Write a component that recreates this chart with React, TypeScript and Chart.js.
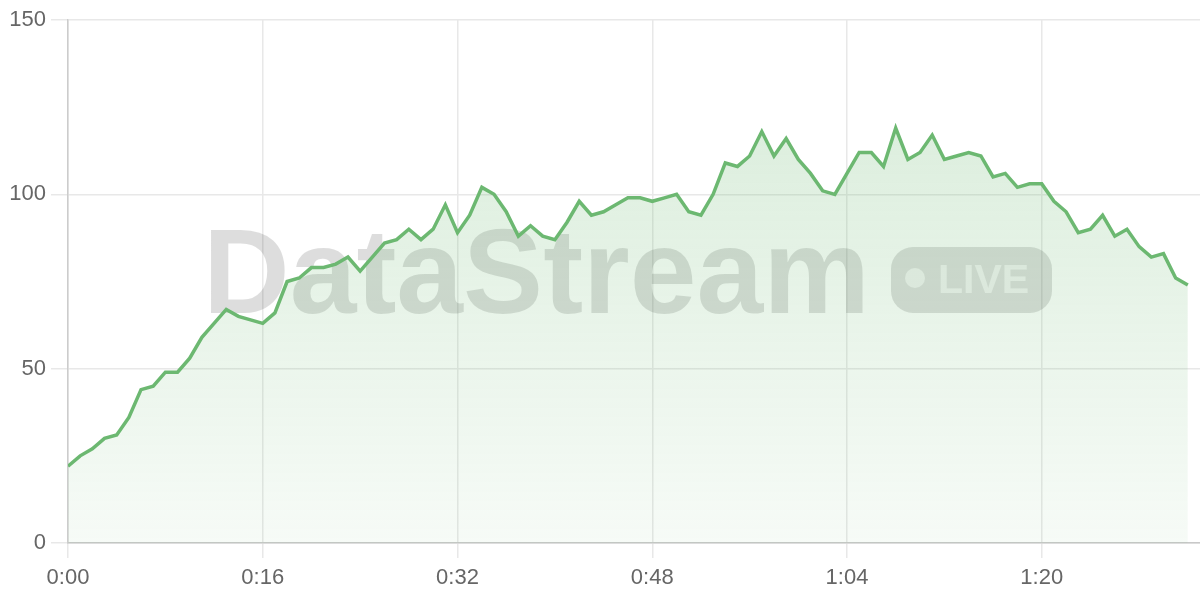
import React, { useEffect, useRef } from "react";
import { Chart, registerables } from "chart.js";

Chart.register(...registerables);

// one sample per second (0:00 .. 1:32)
const values: number[] = [
  22, 25, 27, 30, 31, 36, 44, 45, 49, 49,
  53, 59, 63, 67, 65, 64, 63, 66, 75, 76,
  79, 79, 80, 82, 78, 82, 86, 87, 90, 87,
  90, 97, 89, 94, 102, 100, 95, 88, 91, 88,
  87, 92, 98, 94, 95, 97, 99, 99, 98, 99,
  100, 95, 94, 100, 109, 108, 111, 118, 111, 116,
  110, 106, 101, 100, 106, 112, 112, 108, 119, 110,
  112, 117, 110, 111, 112, 111, 105, 106, 102, 103,
  103, 98, 95, 89, 90, 94, 88, 90, 85, 82,
  83, 76, 74,
];
const xTickSeconds: number[] = [0, 16, 32, 48, 64, 80];
const yTicks: number[] = [0, 50, 100, 150];
const watermarkText = "DataStream";
const badgeText = "LIVE";

const LINE = "#6cb871";
const FONT = "'Liberation Sans', Arial, sans-serif";

const fmt = (s: number) => `${Math.floor(s / 60)}:${String(s % 60).padStart(2, "0")}`;

const watermarkPlugin = {
  id: "watermark",
  beforeDatasetsDraw(chart: any) {
    const ctx = chart.ctx as CanvasRenderingContext2D;
    ctx.save();
    ctx.font = `bold 120px ${FONT}`;
    ctx.textBaseline = "alphabetic";
    ctx.textAlign = "left";
    ctx.fillStyle = "rgba(0,0,0,0.135)";
    ctx.fillText(watermarkText, 203, 313);
    // badge
    const bx = 891, by = 247, bw = 161, bh = 66, r = 22;
    ctx.beginPath();
    ctx.moveTo(bx + r, by);
    ctx.lineTo(bx + bw - r, by);
    ctx.arcTo(bx + bw, by, bx + bw, by + r, r);
    ctx.lineTo(bx + bw, by + bh - r);
    ctx.arcTo(bx + bw, by + bh, bx + bw - r, by + bh, r);
    ctx.lineTo(bx + r, by + bh);
    ctx.arcTo(bx, by + bh, bx, by + bh - r, r);
    ctx.lineTo(bx, by + r);
    ctx.arcTo(bx, by, bx + r, by, r);
    ctx.closePath();
    ctx.fillStyle = "rgba(0,0,0,0.135)";
    ctx.fill();
    ctx.fillStyle = "rgba(255,255,255,0.6)";
    ctx.beginPath();
    ctx.arc(915, 278, 10, 0, Math.PI * 2);
    ctx.fill();
    ctx.font = `bold 41px ${FONT}`;
    ctx.fillText(badgeText, 938, 293);
    ctx.restore();
  },
};

export default function App() {
  const ref = useRef<HTMLCanvasElement | null>(null);

  useEffect(() => {
    if (!ref.current) return;
    const chart = new Chart(ref.current, {
      type: "line",
      data: {
        datasets: [
          {
            data: values.map((v, i) => ({ x: i, y: v })),
            borderColor: LINE,
            borderWidth: 3.5,
            pointRadius: 0,
            tension: 0,
            fill: "origin",
            backgroundColor: (c: any) => {
              const area = c.chart.chartArea;
              if (!area) return "rgba(108,184,113,0.15)";
              const g = c.chart.ctx.createLinearGradient(0, area.top, 0, area.bottom);
              g.addColorStop(0, "rgba(108,184,113,0.28)");
              g.addColorStop(1, "rgba(108,184,113,0.06)");
              return g;
            },
          },
        ],
      },
      options: {
        responsive: false,
        animation: false,
        layout: { padding: { top: 20, left: 0, right: 0, bottom: 0 } },
        plugins: { legend: { display: false }, tooltip: { enabled: false } },
        scales: {
          x: {
            type: "linear",
            min: 0,
            max: 93,
            afterBuildTicks: (s: any) => {
              s.ticks = xTickSeconds.map((v) => ({ value: v }));
            },
            afterFit: (s: any) => {
              s.height = 57;
            },
            grid: { color: "#e8e8e8", lineWidth: 1.5, tickLength: 15 },
            border: { color: "#c8c8c8", width: 1.5 },
            ticks: {
              color: "#666",
              font: { size: 22, family: FONT },
              padding: 7,
              maxRotation: 0,
              callback: (v: any) => fmt(Number(v)),
            },
          },
          y: {
            min: 0,
            max: 150,
            afterBuildTicks: (s: any) => {
              s.ticks = yTicks.map((v) => ({ value: v }));
            },
            afterFit: (s: any) => {
              s.width = 68;
            },
            grid: { color: "#e8e8e8", lineWidth: 1.5, tickLength: 17 },
            border: { color: "#cccccc", width: 1.5 },
            ticks: {
              color: "#666",
              font: { size: 22, family: FONT },
              padding: 5,
            },
          },
        },
      },
      plugins: [watermarkPlugin],
    } as any);
    return () => chart.destroy();
  }, []);

  return (
    <div style={{ position: "absolute", left: 0, top: 0, width: 1200, height: 600, background: "#fff" }}>
      <canvas ref={ref} width={1200} height={600} />
    </div>
  );
}
